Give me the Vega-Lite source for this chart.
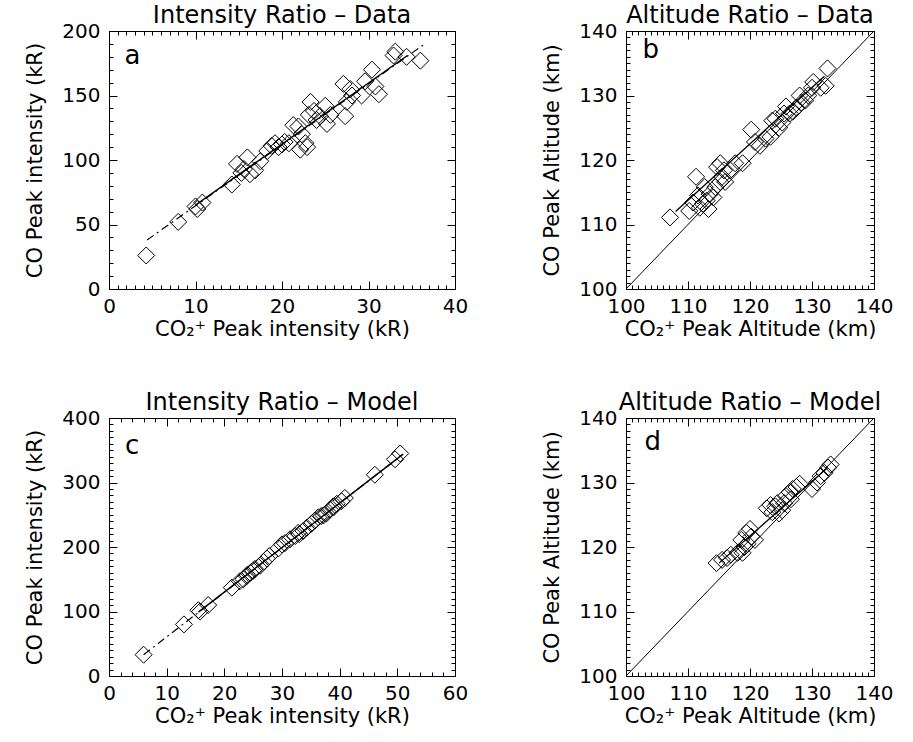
{
  "$schema": "https://vega.github.io/schema/vega-lite/v6.json",
  "padding": {"left": 24, "top": 3, "right": 0, "bottom": 0},
  "background": "white",
  "spacing": 50,
  "config": {
    "font": "DejaVu Sans",
    "view": {"stroke": "black", "strokeWidth": 1},
    "axis": {"domain": false, "grid": false, "labelFontSize": 20, "titleFontSize": 21, "labelColor": "black", "titleColor": "black", "titleFontWeight": "normal", "labelFontWeight": "normal", "tickColor": "black", "tickWidth": 1, "labelOverlap": false, "labelFlush": false, "labelBound": false},
    "title": {"fontSize": 24, "fontWeight": "normal", "color": "black", "anchor": "middle", "offset": -7},
    "concat": {"spacing": 72}
  },
  "datasets": {
    "a_pts": [
      {"x": 4.3, "y": 26}, {"x": 8.0, "y": 52}, {"x": 10.0, "y": 64}, {"x": 10.2, "y": 62}, {"x": 10.8, "y": 67},
      {"x": 14.2, "y": 81}, {"x": 14.8, "y": 97}, {"x": 15.3, "y": 90}, {"x": 15.6, "y": 93}, {"x": 16.0, "y": 102},
      {"x": 16.3, "y": 89}, {"x": 16.9, "y": 92}, {"x": 17.5, "y": 99}, {"x": 18.3, "y": 107}, {"x": 18.8, "y": 111},
      {"x": 19.2, "y": 113}, {"x": 19.6, "y": 110}, {"x": 20.0, "y": 112}, {"x": 20.3, "y": 114}, {"x": 20.8, "y": 113},
      {"x": 21.3, "y": 127}, {"x": 21.9, "y": 126}, {"x": 22.3, "y": 120}, {"x": 22.1, "y": 108}, {"x": 22.9, "y": 110},
      {"x": 22.7, "y": 113}, {"x": 23.3, "y": 145}, {"x": 23.1, "y": 135}, {"x": 23.7, "y": 138}, {"x": 24.0, "y": 131},
      {"x": 24.4, "y": 134}, {"x": 25.0, "y": 142}, {"x": 25.2, "y": 128}, {"x": 25.6, "y": 135}, {"x": 27.1, "y": 159},
      {"x": 27.3, "y": 134}, {"x": 27.5, "y": 145}, {"x": 27.9, "y": 155}, {"x": 28.1, "y": 150}, {"x": 29.2, "y": 150},
      {"x": 29.6, "y": 161}, {"x": 30.4, "y": 170}, {"x": 30.8, "y": 157}, {"x": 31.2, "y": 151}, {"x": 32.9, "y": 181},
      {"x": 33.1, "y": 184}, {"x": 34.4, "y": 180}, {"x": 36.0, "y": 177}
    ],
    "a_dash": [{"x": 4.4, "y": 38}, {"x": 36.3, "y": 189}],
    "a_fit": [{"x": 10.0, "y": 65}, {"x": 34.5, "y": 181}],
    "a_lab": [{"t": "a", "x": 2.7, "y": 181}],
    "b_pts": [
      {"x": 107.1, "y": 111.1}, {"x": 110.2, "y": 112.1}, {"x": 111.3, "y": 117.4}, {"x": 110.8, "y": 113.4}, {"x": 111.6, "y": 114.5},
      {"x": 111.9, "y": 112.6}, {"x": 112.4, "y": 113.2}, {"x": 113.0, "y": 113.7}, {"x": 112.7, "y": 115.8}, {"x": 113.3, "y": 112.4},
      {"x": 113.5, "y": 114.7}, {"x": 114.1, "y": 114.2}, {"x": 114.4, "y": 115.8}, {"x": 114.7, "y": 118.9}, {"x": 115.2, "y": 119.5},
      {"x": 115.5, "y": 117.4}, {"x": 115.8, "y": 118.4}, {"x": 115.2, "y": 116.6}, {"x": 116.0, "y": 116.6}, {"x": 116.8, "y": 118.4},
      {"x": 117.6, "y": 119.5}, {"x": 118.8, "y": 119.5}, {"x": 120.2, "y": 124.7}, {"x": 120.8, "y": 122.8}, {"x": 121.6, "y": 122.2},
      {"x": 122.5, "y": 123.3}, {"x": 123.3, "y": 123.6}, {"x": 123.6, "y": 126.1}, {"x": 124.1, "y": 126.4}, {"x": 124.7, "y": 125.0},
      {"x": 125.2, "y": 125.8}, {"x": 125.5, "y": 127.2}, {"x": 125.8, "y": 128.3}, {"x": 126.4, "y": 127.2}, {"x": 126.9, "y": 127.5},
      {"x": 127.5, "y": 128.1}, {"x": 128.0, "y": 130.0}, {"x": 128.3, "y": 128.9}, {"x": 128.9, "y": 129.2}, {"x": 129.4, "y": 130.0},
      {"x": 130.0, "y": 131.2}, {"x": 130.2, "y": 132.1}, {"x": 131.4, "y": 131.2}, {"x": 132.2, "y": 131.5}, {"x": 132.5, "y": 134.2}
    ],
    "b_diag": [{"x": 100, "y": 100}, {"x": 140, "y": 140}],
    "b_fit": [{"x": 108, "y": 112}, {"x": 132, "y": 133}],
    "b_lab": [{"t": "b", "x": 104, "y": 137}],
    "c_pts": [
      {"x": 6.0, "y": 33}, {"x": 13.0, "y": 80}, {"x": 15.5, "y": 102}, {"x": 15.8, "y": 100}, {"x": 17.2, "y": 110},
      {"x": 21.3, "y": 137}, {"x": 22.7, "y": 147}, {"x": 23.3, "y": 150}, {"x": 23.9, "y": 155}, {"x": 24.0, "y": 157},
      {"x": 24.5, "y": 160}, {"x": 25.0, "y": 163}, {"x": 25.3, "y": 166}, {"x": 26.2, "y": 171}, {"x": 26.8, "y": 177},
      {"x": 27.4, "y": 182}, {"x": 27.8, "y": 186}, {"x": 29.4, "y": 198}, {"x": 30.0, "y": 204}, {"x": 30.5, "y": 206},
      {"x": 31.4, "y": 212}, {"x": 32.3, "y": 217}, {"x": 32.8, "y": 222}, {"x": 33.0, "y": 220}, {"x": 33.7, "y": 225},
      {"x": 34.3, "y": 230}, {"x": 35.1, "y": 236}, {"x": 35.7, "y": 241}, {"x": 36.3, "y": 246}, {"x": 36.8, "y": 248},
      {"x": 37.2, "y": 249}, {"x": 37.7, "y": 252}, {"x": 38.3, "y": 258}, {"x": 38.9, "y": 263}, {"x": 39.0, "y": 262},
      {"x": 39.5, "y": 267}, {"x": 40.3, "y": 271}, {"x": 40.9, "y": 276}, {"x": 46.1, "y": 312}, {"x": 49.6, "y": 336},
      {"x": 50.5, "y": 345}
    ],
    "c_dash": [{"x": 6.0, "y": 33}, {"x": 51.0, "y": 344}],
    "c_fit": [{"x": 15.5, "y": 99}, {"x": 51.0, "y": 344}],
    "c_lab": [{"t": "c", "x": 4.0, "y": 356}],
    "d_pts": [
      {"x": 114.6, "y": 117.5}, {"x": 115.5, "y": 118.0}, {"x": 116.3, "y": 118.3}, {"x": 116.9, "y": 118.8}, {"x": 118.0, "y": 119.1},
      {"x": 118.8, "y": 119.1}, {"x": 119.1, "y": 120.0}, {"x": 118.6, "y": 121.1}, {"x": 119.4, "y": 122.2}, {"x": 120.0, "y": 122.8},
      {"x": 120.2, "y": 121.6}, {"x": 120.8, "y": 121.1}, {"x": 119.6, "y": 120.5}, {"x": 122.7, "y": 126.0}, {"x": 123.3, "y": 126.5},
      {"x": 123.6, "y": 125.4}, {"x": 124.1, "y": 126.3}, {"x": 124.4, "y": 126.8}, {"x": 124.7, "y": 125.2}, {"x": 125.2, "y": 125.7},
      {"x": 125.5, "y": 126.8}, {"x": 125.8, "y": 127.9}, {"x": 126.4, "y": 128.5}, {"x": 126.6, "y": 127.4}, {"x": 126.9, "y": 129.0},
      {"x": 127.5, "y": 129.3}, {"x": 128.0, "y": 129.8}, {"x": 130.0, "y": 129.0}, {"x": 130.8, "y": 130.0}, {"x": 131.4, "y": 131.0},
      {"x": 132.0, "y": 131.5}, {"x": 132.6, "y": 132.3}, {"x": 133.0, "y": 132.8}
    ],
    "d_diag": [{"x": 100, "y": 100}, {"x": 140, "y": 140}],
    "d_fit": [{"x": 115, "y": 117.5}, {"x": 132.5, "y": 132.3}],
    "d_lab": [{"t": "d", "x": 104.3, "y": 136.3}]
  },
  "vconcat": [
    {
      "hconcat": [
        {
          "width": 346, "height": 258,
          "title": {"text": "Intensity Ratio – Data"},
          "resolve": {"axis": {"x": "independent", "y": "independent"}},
          "layer": [
            {
              "data": {"name": "a_pts"},
              "mark": {"type": "point", "shape": "diamond", "size": 290, "filled": false, "stroke": "black", "strokeWidth": 1, "opacity": 1},
              "encoding": {
                "x": {"field": "x", "type": "quantitative", "scale": {"domain": [0, 40], "nice": false, "zero": false},
                  "axis": {"orient": "bottom", "values": [0, 10, 20, 30, 40], "offset": -8, "tickSize": 8, "labelPadding": 7, "title": "CO₂⁺ Peak intensity (kR)", "titlePadding": 2}},
                "y": {"field": "y", "type": "quantitative", "scale": {"domain": [0, 200], "nice": false, "zero": false},
                  "axis": {"orient": "left", "values": [0, 50, 100, 150, 200], "offset": -8, "tickSize": 8, "labelPadding": 9, "title": "CO Peak intensity (kR)", "titlePadding": 16}}
              }
            },
            {
              "data": {"name": "a_fit"},
              "mark": {"type": "line", "color": "black", "strokeWidth": 1.4},
              "encoding": {
                "x": {"field": "x", "type": "quantitative", "scale": {"domain": [0, 40], "nice": false, "zero": false},
                  "axis": {"orient": "bottom", "values": [0,1,2,3,4,5,6,7,8,9,10,11,12,13,14,15,16,17,18,19,20,21,22,23,24,25,26,27,28,29,30,31,32,33,34,35,36,37,38,39,40], "offset": -4, "tickSize": 4, "labels": false, "title": null}},
                "y": {"field": "y", "type": "quantitative", "scale": {"domain": [0, 200], "nice": false, "zero": false},
                  "axis": {"orient": "left", "values": [0,10,20,30,40,50,60,70,80,90,100,110,120,130,140,150,160,170,180,190,200], "offset": -4, "tickSize": 4, "labels": false, "title": null}}
              }
            },
            {
              "data": {"name": "a_dash"},
              "mark": {"type": "line", "color": "black", "strokeWidth": 1.2, "strokeDash": [8, 4, 2, 4]},
              "encoding": {
                "x": {"field": "x", "type": "quantitative", "scale": {"domain": [0, 40], "nice": false, "zero": false},
                  "axis": {"orient": "top", "values": [0, 10, 20, 30, 40], "offset": -8, "tickSize": 8, "labels": false, "title": null}},
                "y": {"field": "y", "type": "quantitative", "scale": {"domain": [0, 200], "nice": false, "zero": false},
                  "axis": {"orient": "right", "values": [0, 50, 100, 150, 200], "offset": -8, "tickSize": 8, "labels": false, "title": null}}
              }
            },
            {
              "data": {"name": "a_lab"},
              "mark": {"type": "text", "fontSize": 26, "color": "black", "align": "center", "baseline": "middle"},
              "encoding": {
                "x": {"field": "x", "type": "quantitative", "scale": {"domain": [0, 40], "nice": false, "zero": false},
                  "axis": {"orient": "top", "values": [0,1,2,3,4,5,6,7,8,9,10,11,12,13,14,15,16,17,18,19,20,21,22,23,24,25,26,27,28,29,30,31,32,33,34,35,36,37,38,39,40], "offset": -4, "tickSize": 4, "labels": false, "title": null}},
                "y": {"field": "y", "type": "quantitative", "scale": {"domain": [0, 200], "nice": false, "zero": false},
                  "axis": {"orient": "right", "values": [0,10,20,30,40,50,60,70,80,90,100,110,120,130,140,150,160,170,180,190,200], "offset": -4, "tickSize": 4, "labels": false, "title": null}},
                "text": {"field": "t"}
              }
            }
          ]
        },
        {
          "width": 248, "height": 258,
          "title": {"text": "Altitude Ratio – Data"},
          "resolve": {"axis": {"x": "independent", "y": "independent"}},
          "layer": [
            {
              "data": {"name": "b_pts"},
              "mark": {"type": "point", "shape": "diamond", "size": 290, "filled": false, "stroke": "black", "strokeWidth": 1, "opacity": 1},
              "encoding": {
                "x": {"field": "x", "type": "quantitative", "scale": {"domain": [100, 140], "nice": false, "zero": false},
                  "axis": {"orient": "bottom", "values": [100, 110, 120, 130, 140], "offset": -8, "tickSize": 8, "labelPadding": 7, "title": "CO₂⁺ Peak Altitude (km)", "titlePadding": 2}},
                "y": {"field": "y", "type": "quantitative", "scale": {"domain": [100, 140], "nice": false, "zero": false},
                  "axis": {"orient": "left", "values": [100, 110, 120, 130, 140], "offset": -8, "tickSize": 8, "labelPadding": 9, "title": "CO Peak Altitude (km)", "titlePadding": 16}}
              }
            },
            {
              "data": {"name": "b_fit"},
              "mark": {"type": "line", "color": "black", "strokeWidth": 1.3},
              "encoding": {
                "x": {"field": "x", "type": "quantitative", "scale": {"domain": [100, 140], "nice": false, "zero": false},
                  "axis": {"orient": "bottom", "values": [100,101,102,103,104,105,106,107,108,109,110,111,112,113,114,115,116,117,118,119,120,121,122,123,124,125,126,127,128,129,130,131,132,133,134,135,136,137,138,139,140], "offset": -4, "tickSize": 4, "labels": false, "title": null}},
                "y": {"field": "y", "type": "quantitative", "scale": {"domain": [100, 140], "nice": false, "zero": false},
                  "axis": {"orient": "left", "values": [100,101,102,103,104,105,106,107,108,109,110,111,112,113,114,115,116,117,118,119,120,121,122,123,124,125,126,127,128,129,130,131,132,133,134,135,136,137,138,139,140], "offset": -4, "tickSize": 4, "labels": false, "title": null}}
              }
            },
            {
              "data": {"name": "b_diag"},
              "mark": {"type": "line", "color": "black", "strokeWidth": 1},
              "encoding": {
                "x": {"field": "x", "type": "quantitative", "scale": {"domain": [100, 140], "nice": false, "zero": false},
                  "axis": {"orient": "top", "values": [100, 110, 120, 130, 140], "offset": -8, "tickSize": 8, "labels": false, "title": null}},
                "y": {"field": "y", "type": "quantitative", "scale": {"domain": [100, 140], "nice": false, "zero": false},
                  "axis": {"orient": "right", "values": [100, 110, 120, 130, 140], "offset": -8, "tickSize": 8, "labels": false, "title": null}}
              }
            },
            {
              "data": {"name": "b_lab"},
              "mark": {"type": "text", "fontSize": 26, "color": "black", "align": "center", "baseline": "middle"},
              "encoding": {
                "x": {"field": "x", "type": "quantitative", "scale": {"domain": [100, 140], "nice": false, "zero": false},
                  "axis": {"orient": "top", "values": [100,101,102,103,104,105,106,107,108,109,110,111,112,113,114,115,116,117,118,119,120,121,122,123,124,125,126,127,128,129,130,131,132,133,134,135,136,137,138,139,140], "offset": -4, "tickSize": 4, "labels": false, "title": null}},
                "y": {"field": "y", "type": "quantitative", "scale": {"domain": [100, 140], "nice": false, "zero": false},
                  "axis": {"orient": "right", "values": [100,101,102,103,104,105,106,107,108,109,110,111,112,113,114,115,116,117,118,119,120,121,122,123,124,125,126,127,128,129,130,131,132,133,134,135,136,137,138,139,140], "offset": -4, "tickSize": 4, "labels": false, "title": null}},
                "text": {"field": "t"}
              }
            }
          ]
        }
      ]
    },
    {
      "hconcat": [
        {
          "width": 346, "height": 258,
          "title": {"text": "Intensity Ratio – Model"},
          "resolve": {"axis": {"x": "independent", "y": "independent"}},
          "layer": [
            {
              "data": {"name": "c_pts"},
              "mark": {"type": "point", "shape": "diamond", "size": 290, "filled": false, "stroke": "black", "strokeWidth": 1, "opacity": 1},
              "encoding": {
                "x": {"field": "x", "type": "quantitative", "scale": {"domain": [0, 60], "nice": false, "zero": false},
                  "axis": {"orient": "bottom", "values": [0, 10, 20, 30, 40, 50, 60], "offset": -8, "tickSize": 8, "labelPadding": 7, "title": "CO₂⁺ Peak intensity (kR)", "titlePadding": 2}},
                "y": {"field": "y", "type": "quantitative", "scale": {"domain": [0, 400], "nice": false, "zero": false},
                  "axis": {"orient": "left", "values": [0, 100, 200, 300, 400], "offset": -8, "tickSize": 8, "labelPadding": 9, "title": "CO Peak intensity (kR)", "titlePadding": 16}}
              }
            },
            {
              "data": {"name": "c_fit"},
              "mark": {"type": "line", "color": "black", "strokeWidth": 1.4},
              "encoding": {
                "x": {"field": "x", "type": "quantitative", "scale": {"domain": [0, 60], "nice": false, "zero": false},
                  "axis": {"orient": "bottom", "values": [0,2,4,6,8,10,12,14,16,18,20,22,24,26,28,30,32,34,36,38,40,42,44,46,48,50,52,54,56,58,60], "offset": -4, "tickSize": 4, "labels": false, "title": null}},
                "y": {"field": "y", "type": "quantitative", "scale": {"domain": [0, 400], "nice": false, "zero": false},
                  "axis": {"orient": "left", "values": [0,10,20,30,40,50,60,70,80,90,100,110,120,130,140,150,160,170,180,190,200,210,220,230,240,250,260,270,280,290,300,310,320,330,340,350,360,370,380,390,400], "offset": -4, "tickSize": 4, "labels": false, "title": null}}
              }
            },
            {
              "data": {"name": "c_dash"},
              "mark": {"type": "line", "color": "black", "strokeWidth": 1.2, "strokeDash": [8, 4, 2, 4]},
              "encoding": {
                "x": {"field": "x", "type": "quantitative", "scale": {"domain": [0, 60], "nice": false, "zero": false},
                  "axis": {"orient": "top", "values": [0, 10, 20, 30, 40, 50, 60], "offset": -8, "tickSize": 8, "labels": false, "title": null}},
                "y": {"field": "y", "type": "quantitative", "scale": {"domain": [0, 400], "nice": false, "zero": false},
                  "axis": {"orient": "right", "values": [0, 100, 200, 300, 400], "offset": -8, "tickSize": 8, "labels": false, "title": null}}
              }
            },
            {
              "data": {"name": "c_lab"},
              "mark": {"type": "text", "fontSize": 26, "color": "black", "align": "center", "baseline": "middle"},
              "encoding": {
                "x": {"field": "x", "type": "quantitative", "scale": {"domain": [0, 60], "nice": false, "zero": false},
                  "axis": {"orient": "top", "values": [0,2,4,6,8,10,12,14,16,18,20,22,24,26,28,30,32,34,36,38,40,42,44,46,48,50,52,54,56,58,60], "offset": -4, "tickSize": 4, "labels": false, "title": null}},
                "y": {"field": "y", "type": "quantitative", "scale": {"domain": [0, 400], "nice": false, "zero": false},
                  "axis": {"orient": "right", "values": [0,10,20,30,40,50,60,70,80,90,100,110,120,130,140,150,160,170,180,190,200,210,220,230,240,250,260,270,280,290,300,310,320,330,340,350,360,370,380,390,400], "offset": -4, "tickSize": 4, "labels": false, "title": null}},
                "text": {"field": "t"}
              }
            }
          ]
        },
        {
          "width": 248, "height": 258,
          "title": {"text": "Altitude Ratio – Model"},
          "resolve": {"axis": {"x": "independent", "y": "independent"}},
          "layer": [
            {
              "data": {"name": "d_pts"},
              "mark": {"type": "point", "shape": "diamond", "size": 290, "filled": false, "stroke": "black", "strokeWidth": 1, "opacity": 1},
              "encoding": {
                "x": {"field": "x", "type": "quantitative", "scale": {"domain": [100, 140], "nice": false, "zero": false},
                  "axis": {"orient": "bottom", "values": [100, 110, 120, 130, 140], "offset": -8, "tickSize": 8, "labelPadding": 7, "title": "CO₂⁺ Peak Altitude (km)", "titlePadding": 2}},
                "y": {"field": "y", "type": "quantitative", "scale": {"domain": [100, 140], "nice": false, "zero": false},
                  "axis": {"orient": "left", "values": [100, 110, 120, 130, 140], "offset": -8, "tickSize": 8, "labelPadding": 9, "title": "CO Peak Altitude (km)", "titlePadding": 16}}
              }
            },
            {
              "data": {"name": "d_fit"},
              "mark": {"type": "line", "color": "black", "strokeWidth": 1.3},
              "encoding": {
                "x": {"field": "x", "type": "quantitative", "scale": {"domain": [100, 140], "nice": false, "zero": false},
                  "axis": {"orient": "bottom", "values": [100,101,102,103,104,105,106,107,108,109,110,111,112,113,114,115,116,117,118,119,120,121,122,123,124,125,126,127,128,129,130,131,132,133,134,135,136,137,138,139,140], "offset": -4, "tickSize": 4, "labels": false, "title": null}},
                "y": {"field": "y", "type": "quantitative", "scale": {"domain": [100, 140], "nice": false, "zero": false},
                  "axis": {"orient": "left", "values": [100,101,102,103,104,105,106,107,108,109,110,111,112,113,114,115,116,117,118,119,120,121,122,123,124,125,126,127,128,129,130,131,132,133,134,135,136,137,138,139,140], "offset": -4, "tickSize": 4, "labels": false, "title": null}}
              }
            },
            {
              "data": {"name": "d_diag"},
              "mark": {"type": "line", "color": "black", "strokeWidth": 1},
              "encoding": {
                "x": {"field": "x", "type": "quantitative", "scale": {"domain": [100, 140], "nice": false, "zero": false},
                  "axis": {"orient": "top", "values": [100, 110, 120, 130, 140], "offset": -8, "tickSize": 8, "labels": false, "title": null}},
                "y": {"field": "y", "type": "quantitative", "scale": {"domain": [100, 140], "nice": false, "zero": false},
                  "axis": {"orient": "right", "values": [100, 110, 120, 130, 140], "offset": -8, "tickSize": 8, "labels": false, "title": null}}
              }
            },
            {
              "data": {"name": "d_lab"},
              "mark": {"type": "text", "fontSize": 26, "color": "black", "align": "center", "baseline": "middle"},
              "encoding": {
                "x": {"field": "x", "type": "quantitative", "scale": {"domain": [100, 140], "nice": false, "zero": false},
                  "axis": {"orient": "top", "values": [100,101,102,103,104,105,106,107,108,109,110,111,112,113,114,115,116,117,118,119,120,121,122,123,124,125,126,127,128,129,130,131,132,133,134,135,136,137,138,139,140], "offset": -4, "tickSize": 4, "labels": false, "title": null}},
                "y": {"field": "y", "type": "quantitative", "scale": {"domain": [100, 140], "nice": false, "zero": false},
                  "axis": {"orient": "right", "values": [100,101,102,103,104,105,106,107,108,109,110,111,112,113,114,115,116,117,118,119,120,121,122,123,124,125,126,127,128,129,130,131,132,133,134,135,136,137,138,139,140], "offset": -4, "tickSize": 4, "labels": false, "title": null}},
                "text": {"field": "t"}
              }
            }
          ]
        }
      ]
    }
  ]
}
